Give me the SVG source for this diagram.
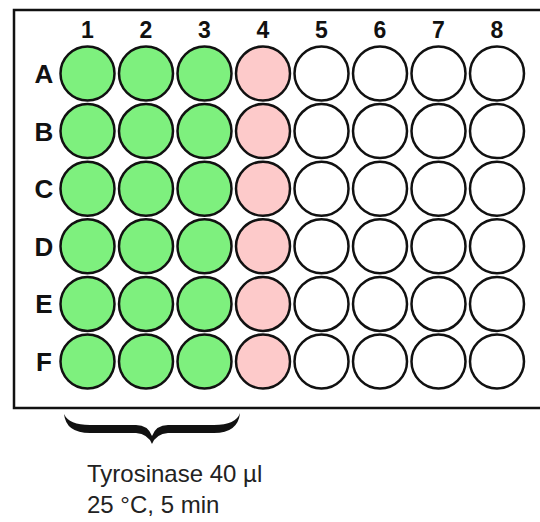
<svg xmlns="http://www.w3.org/2000/svg" width="540" height="522" viewBox="0 0 540 522">
<style>
.w{stroke:#111;stroke-width:2.5;}
.g{fill:#7ef07e;}
.p{fill:#fdcaca;}
.e{fill:#fff;}
.col{font-family:"Liberation Sans",Arial,sans-serif;font-weight:bold;font-size:23px;text-anchor:middle;fill:#111;}
.row{font-family:"Liberation Sans",Arial,sans-serif;font-weight:bold;font-size:26px;text-anchor:middle;fill:#111;}
.lbl{font-family:"Liberation Sans",Arial,sans-serif;font-size:24px;fill:#222;}
</style>
<rect width="540" height="522" fill="#fff"/>
<g id="plate">
<rect x="14" y="10" width="540" height="398" fill="#fff" stroke="#111" stroke-width="2.5"/>
</g>
<g id="column-labels">
<text class="col" x="87.5" y="38">1</text>
<text class="col" x="146" y="38">2</text>
<text class="col" x="204.5" y="38">3</text>
<text class="col" x="263" y="38">4</text>
<text class="col" x="321.5" y="38">5</text>
<text class="col" x="380" y="38">6</text>
<text class="col" x="438.5" y="38">7</text>
<text class="col" x="497" y="38">8</text>
</g>
<g id="row-labels">
<text class="row" x="44" y="83">A</text>
<text class="row" x="44" y="140.5">B</text>
<text class="row" x="44" y="198">C</text>
<text class="row" x="44" y="255.5">D</text>
<text class="row" x="44" y="313">E</text>
<text class="row" x="44" y="370.5">F</text>
</g>
<g id="wells">
<g id="row-A">
<circle class="w g" cx="87.5" cy="73.5" r="27"/><circle class="w g" cx="146" cy="73.5" r="27"/><circle class="w g" cx="204.5" cy="73.5" r="27"/><circle class="w p" cx="263" cy="73.5" r="27"/><circle class="w e" cx="321.5" cy="73.5" r="27"/><circle class="w e" cx="380" cy="73.5" r="27"/><circle class="w e" cx="438.5" cy="73.5" r="27"/><circle class="w e" cx="497" cy="73.5" r="27"/>
</g>
<g id="row-B">
<circle class="w g" cx="87.5" cy="131.1" r="27"/><circle class="w g" cx="146" cy="131.1" r="27"/><circle class="w g" cx="204.5" cy="131.1" r="27"/><circle class="w p" cx="263" cy="131.1" r="27"/><circle class="w e" cx="321.5" cy="131.1" r="27"/><circle class="w e" cx="380" cy="131.1" r="27"/><circle class="w e" cx="438.5" cy="131.1" r="27"/><circle class="w e" cx="497" cy="131.1" r="27"/>
</g>
<g id="row-C">
<circle class="w g" cx="87.5" cy="188.7" r="27"/><circle class="w g" cx="146" cy="188.7" r="27"/><circle class="w g" cx="204.5" cy="188.7" r="27"/><circle class="w p" cx="263" cy="188.7" r="27"/><circle class="w e" cx="321.5" cy="188.7" r="27"/><circle class="w e" cx="380" cy="188.7" r="27"/><circle class="w e" cx="438.5" cy="188.7" r="27"/><circle class="w e" cx="497" cy="188.7" r="27"/>
</g>
<g id="row-D">
<circle class="w g" cx="87.5" cy="246.3" r="27"/><circle class="w g" cx="146" cy="246.3" r="27"/><circle class="w g" cx="204.5" cy="246.3" r="27"/><circle class="w p" cx="263" cy="246.3" r="27"/><circle class="w e" cx="321.5" cy="246.3" r="27"/><circle class="w e" cx="380" cy="246.3" r="27"/><circle class="w e" cx="438.5" cy="246.3" r="27"/><circle class="w e" cx="497" cy="246.3" r="27"/>
</g>
<g id="row-E">
<circle class="w g" cx="87.5" cy="303.9" r="27"/><circle class="w g" cx="146" cy="303.9" r="27"/><circle class="w g" cx="204.5" cy="303.9" r="27"/><circle class="w p" cx="263" cy="303.9" r="27"/><circle class="w e" cx="321.5" cy="303.9" r="27"/><circle class="w e" cx="380" cy="303.9" r="27"/><circle class="w e" cx="438.5" cy="303.9" r="27"/><circle class="w e" cx="497" cy="303.9" r="27"/>
</g>
<g id="row-F">
<circle class="w g" cx="87.5" cy="361.5" r="27"/><circle class="w g" cx="146" cy="361.5" r="27"/><circle class="w g" cx="204.5" cy="361.5" r="27"/><circle class="w p" cx="263" cy="361.5" r="27"/><circle class="w e" cx="321.5" cy="361.5" r="27"/><circle class="w e" cx="380" cy="361.5" r="27"/><circle class="w e" cx="438.5" cy="361.5" r="27"/><circle class="w e" cx="497" cy="361.5" r="27"/>
</g>
</g>
<g id="brace">
<path d="M64,414 Q66,433 90,433 L136,433 Q148,434 152,444 Q156,434 168,433 L214,433 Q238,433 240,413 Q236,425 214,425 L168,425 Q156,425 152,436 Q148,425 136,425 L90,425 Q69,425 64,414 Z" fill="#111"/>
</g>
<g id="label">
<text class="lbl" x="87" y="482">Tyrosinase 40 µl</text>
<text class="lbl" x="87" y="513">25 °C, 5 min</text>
</g>
</svg>
